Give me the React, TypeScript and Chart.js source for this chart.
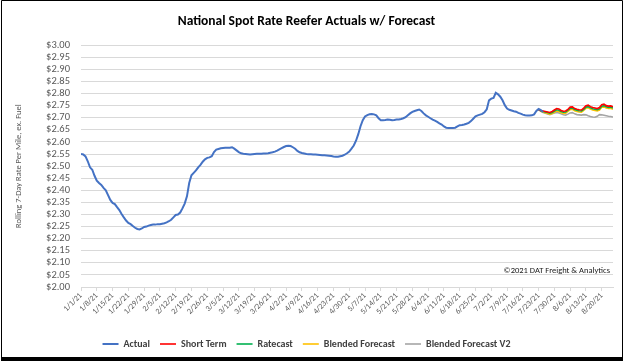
import React, { useEffect, useRef } from "react";
import { Chart, registerables } from "chart.js";

Chart.register(...registerables);

// Daily values starting 1/1/21 (day index 0)
const actualValues: number[] = [
  2.55, 2.548, 2.54, 2.52, 2.495, 2.485, 2.46, 2.44, 2.43, 2.422,
  2.41, 2.4, 2.38, 2.36, 2.348, 2.343, 2.33, 2.318, 2.302, 2.288,
  2.275, 2.265, 2.26, 2.252, 2.245, 2.24, 2.238, 2.242, 2.248, 2.25,
  2.254, 2.256, 2.258, 2.258, 2.26, 2.26, 2.262, 2.264, 2.267, 2.272,
  2.278, 2.288, 2.298, 2.3, 2.308, 2.325, 2.345, 2.375, 2.43, 2.462,
  2.472, 2.482, 2.495, 2.505, 2.518, 2.528, 2.534, 2.536, 2.541, 2.558,
  2.568, 2.571, 2.574, 2.575, 2.576, 2.576, 2.576, 2.578, 2.572, 2.565,
  2.558, 2.553, 2.551, 2.55, 2.549, 2.548, 2.549, 2.55, 2.551, 2.551,
  2.551, 2.552, 2.552, 2.553, 2.555, 2.557, 2.56, 2.564, 2.569, 2.574,
  2.579, 2.583, 2.584, 2.583, 2.578, 2.572, 2.563, 2.557, 2.554, 2.552,
  2.55, 2.549, 2.549, 2.548, 2.548, 2.547, 2.546, 2.545, 2.545, 2.544,
  2.543, 2.542, 2.54, 2.539, 2.539, 2.541, 2.543, 2.547, 2.553, 2.56,
  2.572, 2.585, 2.605, 2.632, 2.665, 2.69, 2.705, 2.711, 2.714, 2.715,
  2.714, 2.71, 2.698, 2.69, 2.69, 2.691, 2.693, 2.692, 2.69, 2.691,
  2.693, 2.693, 2.695, 2.698, 2.702, 2.71, 2.718, 2.724, 2.728, 2.731,
  2.734, 2.728, 2.718, 2.71, 2.704, 2.698, 2.692, 2.688, 2.683, 2.677,
  2.672, 2.664, 2.659, 2.658, 2.658, 2.658, 2.659, 2.664, 2.669, 2.67,
  2.672, 2.675, 2.679, 2.686, 2.696, 2.706, 2.71, 2.713, 2.716, 2.723,
  2.735, 2.772, 2.779, 2.782, 2.803, 2.797, 2.787, 2.772, 2.752, 2.738,
  2.733, 2.73, 2.727, 2.725, 2.72, 2.717, 2.713, 2.71, 2.709, 2.709,
  2.71, 2.714, 2.728, 2.736, 2.732, 2.724,
];

// Forecasts start at day index 203 (7/23/21)
const forecastStartDay = 203;
const shortTermValues: number[] = [
  2.734, 2.73, 2.728, 2.726, 2.724, 2.722, 2.726, 2.732, 2.738, 2.736,
  2.73, 2.727, 2.728, 2.735, 2.744, 2.745, 2.738, 2.735, 2.733, 2.732,
  2.74, 2.75, 2.752, 2.746, 2.742, 2.74, 2.738, 2.742, 2.754, 2.756,
  2.75, 2.748, 2.749, 2.745,
];
const ratecastValues: number[] = [
  2.734, 2.729, 2.726, 2.724, 2.722, 2.719, 2.722, 2.728, 2.733, 2.731,
  2.726, 2.723, 2.724, 2.731, 2.739, 2.74, 2.734, 2.731, 2.729, 2.728,
  2.735, 2.744, 2.746, 2.741, 2.737, 2.735, 2.733, 2.737, 2.748, 2.75,
  2.745, 2.743, 2.744, 2.74,
];
const blendedValues: number[] = [
  2.734, 2.728, 2.724, 2.721, 2.718, 2.715, 2.718, 2.723, 2.728, 2.726,
  2.721, 2.718, 2.719, 2.726, 2.734, 2.735, 2.729, 2.726, 2.724, 2.723,
  2.73, 2.739, 2.741, 2.736, 2.732, 2.73, 2.728, 2.732, 2.743, 2.745,
  2.74, 2.738, 2.739, 2.735,
];
const blendedV2Values: number[] = [
  2.734, 2.727, 2.722, 2.719, 2.716, 2.713, 2.716, 2.72, 2.722, 2.72,
  2.716, 2.712, 2.711, 2.715, 2.72, 2.721, 2.716, 2.713, 2.712, 2.711,
  2.713, 2.712, 2.708, 2.705, 2.703, 2.702, 2.706, 2.713, 2.712, 2.71,
  2.708, 2.706, 2.705, 2.703,
];

const seriesNames = ["Actual", "Short Term", "Ratecast", "Blended Forecast", "Blended Forecast V2"];
const seriesColors = ["#4472C4", "#FF0000", "#00B050", "#FFC000", "#A5A5A5"];

const lastDay = 236; // 8/25/21
const tickStepDays = 7;
const yMin = 2.0;
const yMax = 3.0;
const yStep = 0.05;

const FONT = "Carlito, Lato, 'Open Sans', sans-serif";

function dayLabel(i: number): string {
  const d = new Date(2021, 0, 1 + i);
  return `${d.getMonth() + 1}/${d.getDate()}/21`;
}

const toPoints = (vals: number[], start: number) => vals.map((v, i) => ({ x: start + i, y: v }));

const decorPlugin = {
  id: "decor",
  beforeDraw(chart: any) {
    const ctx = chart.ctx;
    ctx.save();
    ctx.fillStyle = "#ffffff";
    ctx.fillRect(0, 0, chart.width, chart.height);
    ctx.restore();
  },
  afterDraw(chart: any) {
    const ctx = chart.ctx;
    const area = chart.chartArea;
    ctx.save();
    ctx.font = `8.5px ${FONT}`;
    ctx.fillStyle = "#1a1a1a";
    ctx.textAlign = "right";
    ctx.textBaseline = "middle";
    ctx.fillText("©2021 DAT Freight & Analytics", area.right - 3, 271);
    ctx.strokeStyle = "#000000";
    ctx.lineWidth = 1;
    ctx.beginPath();
    ctx.moveTo(1.5, 0.5);
    ctx.lineTo(622.5, 0.5);
    ctx.lineTo(622.5, 358);
    ctx.moveTo(1.5, 0.5);
    ctx.lineTo(1.5, 358);
    ctx.stroke();
    ctx.fillStyle = "#000000";
    ctx.fillRect(1, 357, 622, 4);
    ctx.restore();
  },
};

export default function App() {
  const ref = useRef<HTMLCanvasElement | null>(null);
  useEffect(() => {
    if (!ref.current) return;
    const valuesList = [actualValues, shortTermValues, ratecastValues, blendedValues, blendedV2Values];
    const starts = [0, forecastStartDay, forecastStartDay, forecastStartDay, forecastStartDay];
    const chart = new Chart(ref.current, {
      type: "line",
      data: {
        datasets: valuesList.map((vals, k) => ({
          label: seriesNames[k],
          data: toPoints(vals, starts[k]),
          borderColor: seriesColors[k],
          backgroundColor: seriesColors[k],
          borderWidth: k === 0 ? 2 : 1.6,
          pointRadius: 0,
          tension: 0,
          fill: false,
        })),
      },
      options: {
        animation: false,
        responsive: false,
        maintainAspectRatio: false,
        layout: { padding: { left: 0, right: 14, top: 0, bottom: 2 } },
        plugins: {
          title: {
            display: true,
            text: "National Spot Rate Reefer Actuals w/ Forecast",
            color: "#000000",
            font: { family: FONT, size: 13.5, weight: "bold" },
            padding: { top: 14, bottom: 15 },
          },
          legend: {
            position: "bottom",
            labels: {
              usePointStyle: true,
              pointStyle: "line",
              pointStyleWidth: 16,
              boxHeight: 2,
              color: "#404040",
              font: { family: FONT, size: 10, weight: "bold" },
              padding: 10,
            },
          },
          tooltip: { enabled: false },
        },
        scales: {
          x: {
            type: "linear",
            min: 0,
            max: lastDay,
            afterFit: (s: any) => {
              s.height = 42;
            },
            grid: { display: true, drawOnChartArea: false, drawTicks: true, tickLength: 4, color: "#d9d9d9" },
            border: { display: true, color: "#d9d9d9" },
            ticks: {
              stepSize: tickStepDays,
              includeBounds: false,
              autoSkip: false,
              maxRotation: 45,
              minRotation: 45,
              padding: 0,
              color: "#595959",
              font: { family: FONT, size: 8 },
              callback: (v: any) => dayLabel(Number(v)),
            },
          },
          y: {
            min: yMin,
            max: yMax,
            afterFit: (s: any) => {
              s.width = 81;
            },
            grid: { color: "#d9d9d9", drawTicks: false },
            border: { display: false },
            ticks: {
              stepSize: yStep,
              autoSkip: false,
              padding: 11,
              color: "#595959",
              font: { family: FONT, size: 10.5 },
              callback: (v: any) => "$" + Number(v).toFixed(2),
            },
            title: {
              display: true,
              text: "Rolling 7-Day Rate Per Mile, ex. Fuel",
              color: "#595959",
              font: { family: FONT, size: 8.5 },
              padding: { top: 14, bottom: 4 },
            },
          },
        },
      },
      plugins: [decorPlugin],
    } as any);
    return () => chart.destroy();
  }, []);
  return (
    <div style={{ position: "fixed", left: 0, top: 0, width: 627, height: 361 }}>
      <canvas ref={ref} width={627} height={361} style={{ width: 627, height: 361, display: "block" }} />
    </div>
  );
}
